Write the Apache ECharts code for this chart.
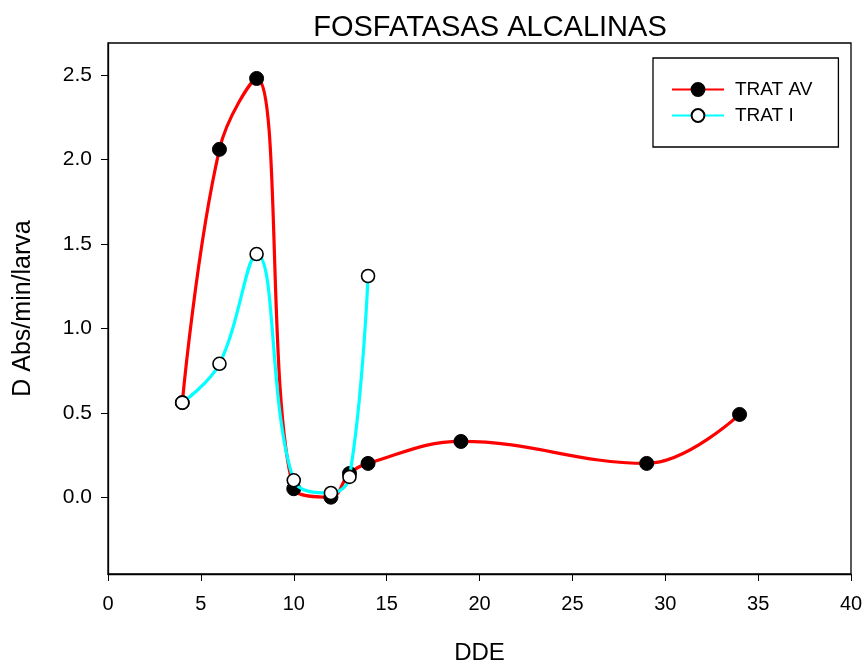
<!DOCTYPE html>
<html><head><meta charset="utf-8">
<script src="https://cdn.jsdelivr.net/npm/echarts@6/dist/echarts.min.js"></script>
<style>html,body{margin:0;padding:0;background:#fff}#c{width:867px;height:670px}</style>
</head><body><div id="c"></div>
<script>
const title = "FOSFATASAS ALCALINAS";
const xName = "DDE";
const yName = "D Abs/min/larva";
const avX = [4, 6, 8, 10, 12, 13, 14, 19, 29, 34];
const avY = [0.56, 2.06, 2.48, 0.05, 0.0, 0.14, 0.20, 0.33, 0.20, 0.49];
const iX = [4, 6, 8, 10, 12, 13, 14];
const iY = [0.56, 0.79, 1.44, 0.10, 0.025, 0.12, 1.31];
const yTicks = [0, 0.5, 1.0, 1.5, 2.0, 2.5];
const xTicks = [0, 5, 10, 15, 20, 25, 30, 35, 40];

const font = 'Liberation Sans, Arial, sans-serif';
const chart = echarts.init(document.getElementById('c'));
chart.setOption({
  animation: false,
  title: { text: title, left: 485, top: 8, textAlign: 'center',
    textStyle: { fontFamily: font, fontSize: 29, fontWeight: 'normal', color: '#000' } },
  legend: {
    orient: 'vertical', left: 653, top: 58,
    padding: [22, 26, 22, 18], itemGap: 7, itemWidth: 52, itemHeight: 16,
    backgroundColor: '#fff', borderColor: '#000', borderWidth: 1.3,
    textStyle: { fontFamily: font, fontSize: 19, lineHeight: 19, color: '#000', padding: [0, 0, 0, 6] },
    data: ['TRAT AV', 'TRAT I']
  },
  grid: { left: 108, right: 16, top: 43, bottom: 94, show: true, borderColor: '#000', borderWidth: 1.3 },
  xAxis: {
    type: 'value', min: 0, max: 40, interval: 5,
    name: xName, nameLocation: 'middle', nameGap: 67,
    nameTextStyle: { fontFamily: font, fontSize: 24, color: '#000' },
    axisLine: { onZero: false, lineStyle: { color: '#000', width: 1.3 } },
    axisTick: { show: true, length: 7, lineStyle: { color: '#000' } },
    axisLabel: { fontFamily: font, fontSize: 20, color: '#000', margin: 20,
      showMinLabel: true, showMaxLabel: true },
    splitLine: { show: false }
  },
  yAxis: {
    type: 'value', min: -0.455, max: 2.69,
    name: yName, nameLocation: 'middle', nameGap: 72,
    nameTextStyle: { fontFamily: font, fontSize: 25, color: '#000' },
    axisLine: { show: true, onZero: false, lineStyle: { color: '#000', width: 1.3 } },
    axisTick: { show: true, length: 7, lineStyle: { color: '#000' }, customValues: yTicks },
    axisLabel: { fontFamily: font, fontSize: 21, color: '#000', margin: 16,
      customValues: yTicks, formatter: v => v.toFixed(1) },
    splitLine: { show: false }
  },
  series: [
    { name: 'TRAT AV', type: 'line', smooth: 0.4,
      data: avX.map((x, i) => [x, avY[i]]),
      lineStyle: { color: '#ff0000', width: 3.2 },
      itemStyle: { color: '#000', borderColor: '#000', borderWidth: 1 },
      symbol: 'circle', symbolSize: 14, showAllSymbol: true, z: 2 },
    { name: 'TRAT I', type: 'line', smooth: 0.4,
      data: iX.map((x, i) => [x, iY[i]]),
      lineStyle: { color: '#00ffff', width: 3.2 },
      itemStyle: { color: '#fff', borderColor: '#000', borderWidth: 1.6 },
      symbol: 'circle', symbolSize: 13, showAllSymbol: true, z: 3 }
  ]
});
</script></body></html>
